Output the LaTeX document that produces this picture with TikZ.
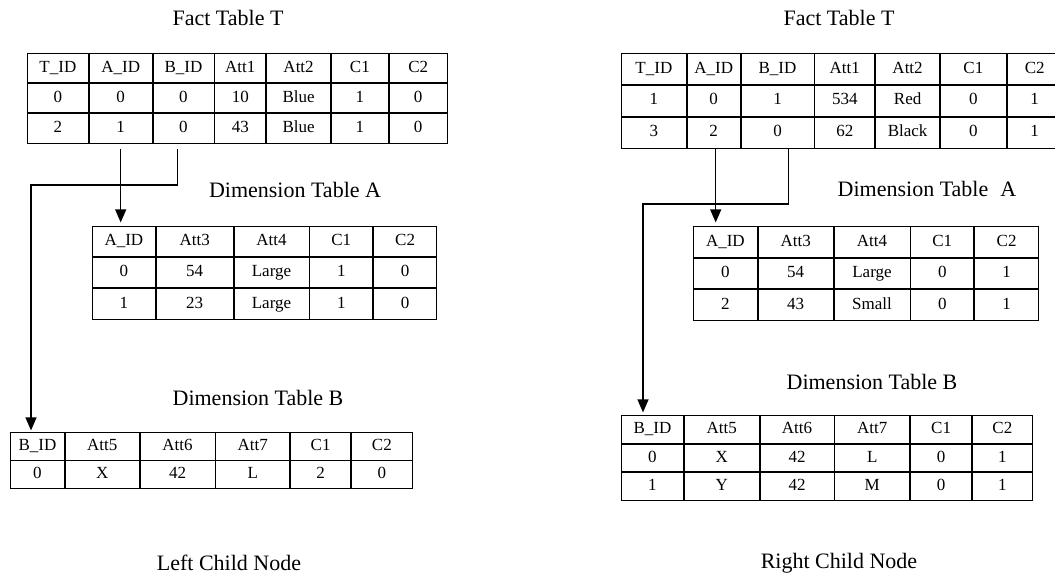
\documentclass[tikz,border=0pt]{standalone}
\usepackage{fontspec}
\setmainfont{Liberation Serif}
\usetikzlibrary{arrows.meta,positioning,matrix,calc}
\tikzset{
  cell/.style={draw, line width=0.8pt, inner sep=0pt, outer sep=0pt, anchor=center, text height=12pt, text depth=3.5pt, font=\fontsize{17}{20}\selectfont},
  tbl/.style={matrix of nodes, nodes={cell, minimum height=#1}, column sep=0pt, row sep=0pt, inner sep=0pt, outer sep=0pt, anchor=north west},
  tabletitle/.style={font=\fontsize{22}{25}\selectfont},
  arrow/.style={-{Triangle[length=13pt,width=11pt]}, line width=1.2pt}
}

\begin{document}
\begin{tikzpicture}[x=1pt,y=-1pt]
  \useasboundingbox (0,0) rectangle (1055,584);

  % left child
  \node[tabletitle] (lftitle) at (228,18) {Fact Table T};
  \matrix[tbl=29.3pt,
    column 1/.style={nodes={minimum width=61pt}}, column 2/.style={nodes={minimum width=63pt}},
    column 3/.style={nodes={minimum width=61pt}}, column 4/.style={nodes={minimum width=51pt}},
    column 5/.style={nodes={minimum width=64pt}}, column 6/.style={nodes={minimum width=57pt}},
    column 7/.style={nodes={minimum width=58pt}}] (lf) at (27,53) {
    T\_ID & A\_ID & B\_ID & Att1 & Att2 & C1 & C2 \\
    0 & 0 & 0 & 10 & Blue & 1 & 0 \\
    2 & 1 & 0 & 43 & Blue & 1 & 0 \\
  };

  \node[tabletitle] (latitle) at (295,190) {Dimension Table A};
  \matrix[tbl=30.3pt,
    column 1/.style={nodes={minimum width=63pt}}, column 2/.style={nodes={minimum width=77pt}},
    column 3/.style={nodes={minimum width=75pt}}, column 4/.style={nodes={minimum width=63pt}},
    column 5/.style={nodes={minimum width=63pt}}] (la) at (92,226) {
    A\_ID & Att3 & Att4 & C1 & C2 \\
    0 & 54 & Large & 1 & 0 \\
    1 & 23 & Large & 1 & 0 \\
  };

  \node[tabletitle] (lbtitle) at (258,398) {Dimension Table B};
  \matrix[tbl=27.5pt,
    column 1/.style={nodes={minimum width=54pt}}, column 2/.style={nodes={minimum width=74pt}},
    column 3/.style={nodes={minimum width=75pt}}, column 4/.style={nodes={minimum width=74pt}},
    column 5/.style={nodes={minimum width=60pt}}, column 6/.style={nodes={minimum width=61pt}}] (lb) at (10,432) {
    B\_ID & Att5 & Att6 & Att7 & C1 & C2 \\
    0 & X & 42 & L & 2 & 0 \\
  };

  \node[tabletitle] (lchild) at (229,563) {Left Child Node};

  % right child
  \node[tabletitle] (rftitle) at (839,18) {Fact Table T};
  \matrix[tbl=31pt,
    column 1/.style={nodes={minimum width=65pt}}, column 2/.style={nodes={minimum width=53pt}},
    column 3/.style={nodes={minimum width=73pt}}, column 4/.style={nodes={minimum width=60pt}},
    column 5/.style={nodes={minimum width=64pt}}, column 6/.style={nodes={minimum width=66pt}},
    column 7/.style={nodes={minimum width=55pt}}] (rf) at (621,53) {
    T\_ID & A\_ID & B\_ID & Att1 & Att2 & C1 & C2 \\
    1 & 0 & 1 & 534 & Red & 0 & 1 \\
    3 & 2 & 0 & 62 & Black & 0 & 1 \\
  };

  \node[tabletitle] (ratitle) at (927,189) {Dimension Table\hspace{0.3em} A};
  \matrix[tbl=30.7pt,
    column 1/.style={nodes={minimum width=64pt}}, column 2/.style={nodes={minimum width=75pt}},
    column 3/.style={nodes={minimum width=76pt}}, column 4/.style={nodes={minimum width=63pt}},
    column 5/.style={nodes={minimum width=64pt}}] (ra) at (693,226) {
    A\_ID & Att3 & Att4 & C1 & C2 \\
    0 & 54 & Large & 0 & 1 \\
    2 & 43 & Small & 0 & 1 \\
  };

  \node[tabletitle] (rbtitle) at (872,382) {Dimension Table B};
  \matrix[tbl=27.7pt,
    column 1/.style={nodes={minimum width=62pt}}, column 2/.style={nodes={minimum width=75pt}},
    column 3/.style={nodes={minimum width=74pt}}, column 4/.style={nodes={minimum width=75pt}},
    column 5/.style={nodes={minimum width=61pt}}, column 6/.style={nodes={minimum width=60pt}}] (rb) at (621,415) {
    B\_ID & Att5 & Att6 & Att7 & C1 & C2 \\
    0 & X & 42 & L & 0 & 1 \\
    1 & Y & 42 & M & 0 & 1 \\
  };

  \node[tabletitle] (rchild) at (839,563) {Right Child Node};

  % foreign keys
  \coordinate (lbend) at (31,185);
  \coordinate (rbend) at (643,204);
  \draw[arrow, shorten <=6pt, shorten >=4pt] (lf-3-2.south) -- (lf-3-2.south |- la-1-1.north);
  \draw[arrow, shorten <=6pt, shorten >=2pt] ([xshift=-6pt]lf-3-3.south) |- (lbend) -- (lbend |- lb-1-1.north);
  \draw[arrow, shorten >=4pt] ([xshift=2pt]rf-3-2.south) -- ([xshift=2pt]rf-3-2.south |- ra-1-1.north);
  \draw[arrow, shorten >=3pt] ([xshift=11pt]rf-3-3.south) |- (rbend) -- (rbend |- rb-1-1.north);
\end{tikzpicture}
\end{document}
